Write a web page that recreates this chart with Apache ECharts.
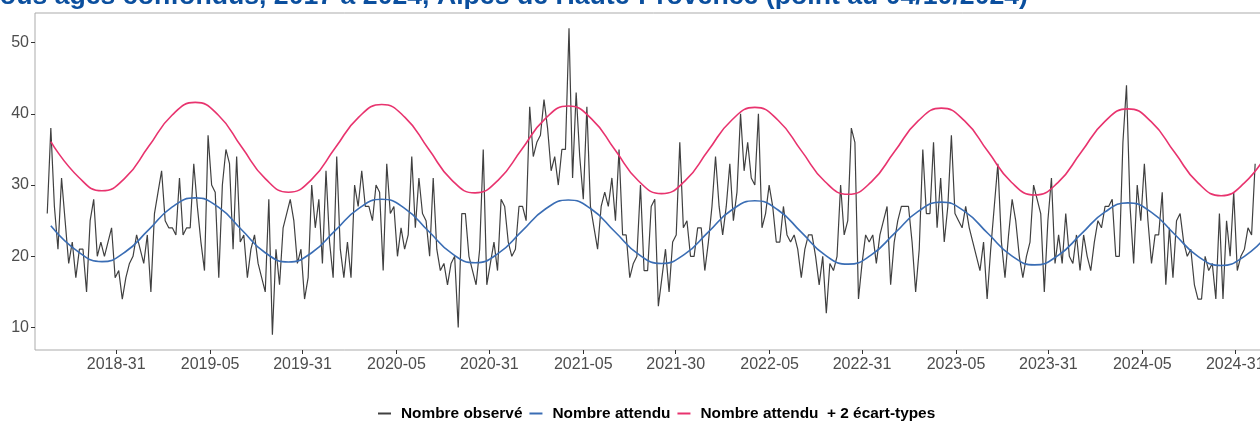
<!DOCTYPE html>
<html>
<head>
<meta charset="utf-8">
<script src="https://cdn.jsdelivr.net/npm/echarts@6/dist/echarts.min.js"></script>
<style>
  html, body { margin: 0; padding: 0; background: #ffffff; overflow: hidden; }
  #chart { width: 1300px; height: 423px; }
</style>
</head>
<body>
<div id="chart"></div>
<script>
// Weekly counts, Alpes de Haute-Provence
const titleText = 'Nombre hebdomadaire de décès, tous âges confondus, 2017 à 2024, Alpes de Haute-Provence (point au 04/10/2024)';
const seriesNames = ['Nombre observé', 'Nombre attendu', 'Nombre attendu  + 2 écart-types'];

// first week of the observed series (Monday)
const firstWeek = '2018-03-19';

// observed weekly counts, one value per week from firstWeek
const observed = [
  26, 38, 27, 21, 31, 25, 19, 22, 17, 21,
  21, 15, 25, 28, 20, 22, 20, 22, 24, 17,
  18, 14, 17, 19, 20, 23, 21, 19, 23, 15,
  26, 29, 32, 25, 24, 24, 23, 31, 23, 24,
  24, 33, 27, 22, 18, 37, 30, 29, 17, 30,
  35, 33, 21, 34, 22, 23, 17, 21, 23, 19,
  17, 15, 28, 9, 21, 16, 24, 26, 28, 25,
  19, 21, 14, 17, 30, 24, 28, 19, 32, 22,
  17, 34, 21, 17, 22, 17, 30, 27, 32, 27,
  27, 25, 30, 29, 18, 33, 26, 27, 20, 24,
  21, 23, 34, 24, 31, 26, 25, 20, 31, 21,
  18, 19, 16, 19, 20, 10, 26, 26, 20, 18,
  16, 21, 35, 16, 19, 22, 18, 28, 27, 22,
  20, 21, 27, 27, 25, 41, 34, 36, 37, 42,
  38, 32, 34, 30, 35, 35, 52, 31, 43, 34,
  28, 41, 27, 24, 21, 27, 29, 27, 31, 25,
  35, 23, 23, 17, 19, 20, 30, 18, 18, 27,
  28, 13, 17, 21, 15, 22, 23, 36, 24, 25,
  20, 20, 24, 24, 18, 22, 27, 34, 27, 23,
  27, 33, 25, 29, 40, 32, 36, 31, 30, 40,
  24, 26, 30, 27, 22, 22, 27, 23, 22, 23,
  21, 17, 21, 23, 23, 20, 16, 20, 12, 19,
  18, 20, 30, 23, 25, 38, 36, 14, 19, 23,
  22, 23, 19, 23, 25, 27, 16, 22, 25, 27,
  27, 27, 22, 15, 21, 35, 26, 26, 36, 24,
  31, 22, 27, 37, 26, 25, 24, 27, 24, 22,
  20, 18, 22, 14, 21, 27, 33, 22, 17, 23,
  28, 25, 20, 17, 20, 22, 30, 28, 26, 15,
  25, 31, 19, 23, 19, 26, 20, 19, 23, 18,
  23, 20, 18, 22, 25, 24, 27, 27, 28, 20,
  20, 36, 44, 27, 19, 30, 25, 33, 25, 19,
  23, 23, 29, 16, 24, 17, 25, 26, 22, 20,
  21, 16, 14, 14, 20, 18, 19, 14, 26, 14,
  25, 20, 29, 18, 20, 21, 24, 23, 33
];

// expected level and alert threshold, read at week offsets from firstWeek
const curveWeeks = [
  1, 8.8, 15.3, 21.8, 28.35, 34.9, 41.4, 47.9, 54.45, 61.0,
  67.5, 74.0, 80.55, 87.1, 93.6, 100.1, 106.65, 113.2, 119.7, 126.2,
  132.75, 139.3, 145.8, 152.3, 158.85, 165.4, 171.9, 178.4, 184.95, 191.5,
  198.0, 204.5, 211.05, 217.6, 224.1, 230.6, 237.15, 243.7, 250.2, 256.7,
  263.25, 269.8, 276.3, 282.8, 289.35, 295.9, 302.4, 308.9, 315.45, 322.0,
  328.5, 335.0, 341.55
];
const expected = [
  24.3, 20.6, 19.25, 20.6, 23.7, 26.9, 28.2, 26.9, 23.7, 20.5,
  19.2, 20.5, 23.6, 26.7, 28.0, 26.7, 23.55, 20.4, 19.1, 20.4,
  23.5, 26.6, 27.9, 26.6, 23.45, 20.3, 19.0, 20.3, 23.4, 26.5,
  27.8, 26.5, 23.35, 20.2, 18.9, 20.2, 23.25, 26.3, 27.6, 26.3,
  23.2, 20.1, 18.8, 20.1, 23.15, 26.2, 27.5, 26.2, 23.1, 20.0,
  18.7, 20.0, 23.05
];
const threshold = [
  36.1, 31.1, 29.2, 31.0, 35.4, 39.8, 41.6, 39.8, 35.3, 30.9,
  29.0, 30.8, 35.2, 39.5, 41.3, 39.5, 35.1, 30.7, 28.9, 30.7,
  35.0, 39.3, 41.1, 39.3, 34.95, 30.6, 28.8, 30.55, 34.85, 39.1,
  40.9, 39.1, 34.8, 30.5, 28.7, 30.45, 34.75, 39.0, 40.8, 39.0,
  34.7, 30.4, 28.6, 30.35, 34.65, 38.9, 40.7, 38.9, 34.6, 30.3,
  28.5, 30.3, 34.55
];

// x-axis breaks (1 Feb / 1 Aug) and their ISO year-week labels
const tickDates = [
  '2018-08-01', '2019-02-01', '2019-08-01', '2020-02-01', '2020-08-01',
  '2021-02-01', '2021-08-01', '2022-02-01', '2022-08-01', '2023-02-01',
  '2023-08-01', '2024-02-01', '2024-08-01'
];
const tickLabels = [
  '2018-31', '2019-05', '2019-31', '2020-05', '2020-31',
  '2021-05', '2021-30', '2022-05', '2022-31', '2023-05',
  '2023-31', '2024-05', '2024-31'
];
const yTicks = [10, 20, 30, 40, 50];

const xRange = ['2018-02-23', '2024-10-12'];
const yRange = [6.85, 54.15];

const WEEK = 7 * 86400000;
const toMs = d => Date.parse(d + 'T00:00:00Z');
const t0 = toMs(firstWeek);

const obsData = observed.map((v, i) => [t0 + i * WEEK, v]);
const expData = curveWeeks.map((w, k) => [t0 + w * WEEK, expected[k]]);
const thrData = curveWeeks.map((w, k) => [t0 + w * WEEK, threshold[k]]);
const tickValues = tickDates.map(toMs);

const FONT = "'Liberation Sans', Arial, Helvetica, sans-serif";
const colors = ['#404040', '#3a6db4', '#e8336e'];

const chart = echarts.init(document.getElementById('chart'), null, { renderer: 'canvas' });

chart.setOption({
  animation: false,
  backgroundColor: '#ffffff',
  title: {
    text: titleText,
    right: 272,
    top: -17,
    padding: 0,
    textStyle: {
      fontFamily: FONT,
      fontWeight: 'bold',
      fontSize: 26.67,
      color: '#0b4f9e'
    }
  },
  legend: {
    data: seriesNames,
    left: 378,
    top: 406,
    padding: 0,
    itemWidth: 13,
    itemHeight: 10,
    itemGap: 7,
    icon: 'path://M0,4 L13,4 L13,6 L0,6 Z',
    textStyle: {
      fontFamily: FONT,
      fontWeight: 'bold',
      fontSize: 15.4,
      color: '#000000',
      padding: [0, 0, 0, 5]
    }
  },
  grid: {
    left: 35,
    right: 28,
    top: 13,
    bottom: 73,
    show: true,
    borderColor: '#ababab',
    borderWidth: 1,
    containLabel: false
  },
  xAxis: {
    type: 'value',
    min: toMs(xRange[0]),
    max: toMs(xRange[1]),
    axisLine: { show: false },
    splitLine: { show: false },
    axisTick: {
      show: true,
      length: 4,
      customValues: tickValues,
      lineStyle: { color: '#333333', width: 1 }
    },
    axisLabel: {
      customValues: tickValues,
      margin: 7,
      fontFamily: FONT,
      fontSize: 16,
      color: '#4d4d4d',
      formatter: v => {
        const k = tickValues.indexOf(v);
        return k >= 0 ? tickLabels[k] : '';
      }
    }
  },
  yAxis: {
    type: 'value',
    min: yRange[0],
    max: yRange[1],
    axisLine: { show: false },
    splitLine: { show: false },
    axisTick: {
      show: true,
      length: 4,
      customValues: yTicks,
      lineStyle: { color: '#333333', width: 1 }
    },
    axisLabel: {
      customValues: yTicks,
      margin: 6,
      fontFamily: FONT,
      fontSize: 16,
      color: '#4d4d4d'
    }
  },
  series: [
    {
      name: seriesNames[0],
      type: 'line',
      data: obsData,
      symbol: 'none',
      color: colors[0],
      lineStyle: { width: 1.2, color: colors[0] },
      z: 2
    },
    {
      name: seriesNames[1],
      type: 'line',
      data: expData,
      symbol: 'none',
      smooth: 0.5,
      color: colors[1],
      lineStyle: { width: 1.6, color: colors[1] },
      z: 3
    },
    {
      name: seriesNames[2],
      type: 'line',
      data: thrData,
      symbol: 'none',
      smooth: 0.5,
      color: colors[2],
      lineStyle: { width: 1.6, color: colors[2] },
      z: 4
    }
  ]
});
</script>
</body>
</html>
